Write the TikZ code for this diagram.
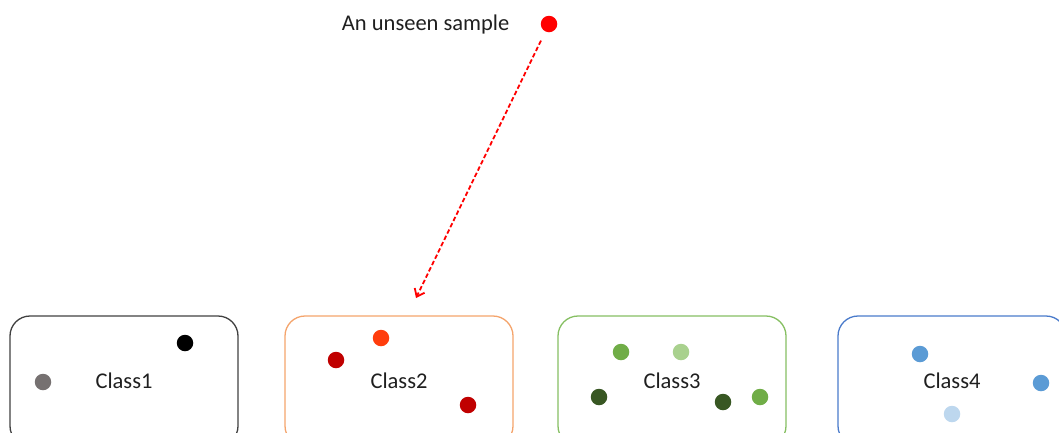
\documentclass[tikz,border=0pt]{standalone}
\usepackage{fontspec}
\setmainfont{Carlito}
\usetikzlibrary{arrows.meta, positioning}
\definecolor{boxgray}{HTML}{404040}
\definecolor{boxorange}{HTML}{F4A46C}
\definecolor{boxgreen}{HTML}{86BF62}
\definecolor{boxblue}{HTML}{4A7BCB}
\definecolor{unseenred}{HTML}{FF0000}
\definecolor{ptgray}{HTML}{767171}
\definecolor{ptorange}{HTML}{FF3D0D}
\definecolor{ptdarkred}{HTML}{C00000}
\definecolor{ptgreen}{HTML}{70AD47}
\definecolor{ptlightgreen}{HTML}{A9D18E}
\definecolor{ptdarkgreen}{HTML}{385723}
\definecolor{ptblue}{HTML}{5B9BD5}
\definecolor{ptlightblue}{HTML}{BDD7EE}
\tikzset{
  % Class containers
  classbox/.style={
    rectangle, rounded corners=20pt, minimum width=228pt, minimum height=130pt,
    draw=#1, line width=1.3pt, text=black!88,
    font=\fontsize{22.5}{26}\selectfont,
  },
  classbox/.default={boxgray},
  % Samples
  sample/.style={circle, fill=#1, minimum size=16.5pt, inner sep=0pt},
  sample/.default={black},
  % Assignment arrow
  guessarrow/.style={
    -{Straight Barb[length=7pt, width=11pt, line width=1.8pt]},
    line width=1.8pt, dash pattern=on 4.5pt off 2.5pt, #1,
  },
  guessarrow/.default={unseenred},
}
\begin{document}
\begin{tikzpicture}[x=1pt, y=-1pt]
  \useasboundingbox (0,0) rectangle (1059,432);

  % Class boxes
  \node[classbox=boxgray] (class1) at (124,381) {Class1};
  \node[classbox=boxorange] (class2) at (399,381) {Class2};
  \node[classbox=boxgreen] (class3) at (672,381) {Class3};
  \node[classbox=boxblue] (class4) at (952,381) {Class4};

  % Class1 samples
  \node[sample=ptgray] (c1a) at (43,382) {};
  \node[sample=black] (c1b) at (185,343) {};

  % Class2 samples
  \node[sample=ptorange] (c2a) at (381,338) {};
  \node[sample=ptdarkred] (c2b) at (336,360) {};
  \node[sample=ptdarkred] (c2c) at (468,405) {};

  % Class3 samples
  \node[sample=ptgreen] (c3a) at (621,352) {};
  \node[sample=ptlightgreen] (c3b) at (681,352) {};
  \node[sample=ptdarkgreen] (c3c) at (599,397) {};
  \node[sample=ptdarkgreen] (c3d) at (723,402) {};
  \node[sample=ptgreen] (c3e) at (760,397) {};

  % Class4 samples
  \node[sample=ptblue] (c4a) at (920,354) {};
  \node[sample=ptblue] (c4b) at (1041,383) {};
  \node[sample=ptlightblue] (c4c) at (952,414) {};

  % New sample
  \node[sample=unseenred] (unseen) at (549,24) {};
  \node[left=31pt of unseen, inner sep=0pt, text=black!88,
    font=\fontsize{22.5}{26}\selectfont] (unseenlbl) {An unseen sample};

  % Arrow
  \coordinate (hit) at (416,298);
  \draw[guessarrow, shorten <=10pt] (unseen) -- (hit);

\end{tikzpicture}
\end{document}
